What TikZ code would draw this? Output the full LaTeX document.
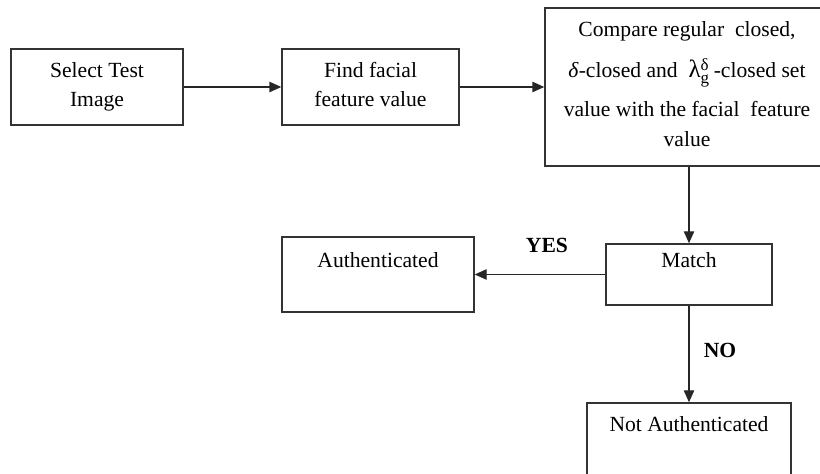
\documentclass[tikz,border=0pt]{standalone}
\usepackage{fontspec}
\setmainfont{Liberation Serif}
\usetikzlibrary{arrows.meta}

\tikzset{
  box/.style={draw=black!80, line width=0.7pt, rectangle, inner sep=0pt},
  txt/.style={font=\fontsize{10.8}{14}\selectfont, anchor=base, inner sep=0pt},
  yesno/.style={font=\fontsize{10.8}{14}\selectfont\bfseries, inner sep=0pt},
  flow/.style={draw=black!85, line width=0.7pt, -{Triangle[length=6pt,width=5.2pt]}},
}

\begin{document}
\begin{tikzpicture}[x=0.5pt, y=-0.5pt]
  \useasboundingbox (0,0) rectangle (820,474);
  \clip (0,0) rectangle (820,474);

  % boxes
  \node[box, minimum width=86pt,  minimum height=38pt]   (sel)   at (97,87)     {};
  \node[box, minimum width=88.5pt, minimum height=38pt]  (find)  at (370.5,87)  {};
  \node[box, minimum width=142pt, minimum height=79pt]   (cmp)   at (687,87)    {};
  \node[box, minimum width=83pt,  minimum height=30.5pt] (match) at (689,274.5) {};
  \node[box, minimum width=96pt,  minimum height=37.5pt] (auth)  at (378,274.5) {};
  \node[box, minimum width=102pt, minimum height=43.5pt] (nauth) at (689,446.5) {};

  % box texts
  \node[txt] (sel1) at (97,78)  {Select Test};
  \node[txt] (sel2) at (97,107) {Image};
  \node[txt] (find1) at (370.5,78)  {Find facial};
  \node[txt] (find2) at (370.5,107) {feature value};
  \node[txt] (cmp1) at (687,37)  {Compare regular\ \ closed,};
  \node[txt] (cmp2) at (687,78)  {\textit{δ}-closed and\ \ {\fontsize{12.5}{13}\selectfont λ}$^{\hbox{\fontsize{8.5}{9}\selectfont δ}}_{\hbox{\fontsize{8.5}{9}\selectfont g}}$\,-closed set};
  \node[txt] (cmp3) at (687,117) {value with the facial\ \ feature};
  \node[txt] (cmp4) at (687,147) {value};
  \node[txt] (matcht) at (689,268) {Match};
  \node[txt] (autht)  at (378,268) {Authenticated};
  \node[txt] (nautht) at (689,432) {Not Authenticated};

  % connectors
  \draw[flow] (sel) -- (find);
  \draw[flow] (find) -- (cmp);
  \draw[flow] (match.north |- cmp.south) -- (match.north);
  \draw[flow] (match) -- (auth);
  \draw[flow] (match) -- (nauth);

  % branch labels
  \node[yesno] (yes) at (547,245) {YES};
  \node[yesno] (no)  at (720,350) {NO};
\end{tikzpicture}
\end{document}
